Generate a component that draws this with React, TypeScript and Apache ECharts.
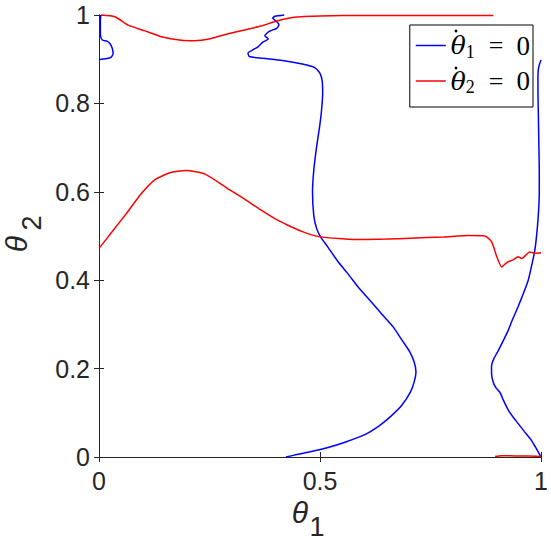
import React, { useEffect, useRef } from "react";
import * as echarts from "echarts";

// ---- tick values ----
const xTicks = [0, 0.5, 1];
const yTicks = [0, 0.2, 0.4, 0.6, 0.8, 1];

// ---- legend labels ----
const name1 = "θ̇1 = 0";
const name2 = "θ̇2 = 0";

// ---- θ̇1 = 0 (blue) curve pieces ----
const blueTopLeft: number[][] = [
  [0.004, 1.0], [0.003, 0.985], [0.003, 0.965], [0.004, 0.95], [0.008, 0.943],
  [0.018, 0.941], [0.025, 0.935], [0.03, 0.925], [0.032, 0.913], [0.027, 0.904],
  [0.015, 0.901], [0.005, 0.9], [0.001, 0.899],
];
const blueMiddle: number[][] = [
  [0.419, 1.0], [0.398, 0.997], [0.393, 0.993], [0.4, 0.987], [0.407, 0.978],
  [0.402, 0.97], [0.385, 0.963], [0.375, 0.953], [0.383, 0.946], [0.37, 0.938],
  [0.36, 0.928], [0.348, 0.921], [0.337, 0.914], [0.34, 0.906], [0.37, 0.902],
  [0.415, 0.897], [0.46, 0.889], [0.488, 0.881], [0.5, 0.868], [0.505, 0.85],
  [0.506, 0.823], [0.503, 0.78], [0.499, 0.747], [0.492, 0.7], [0.486, 0.65],
  [0.483, 0.6], [0.486, 0.545], [0.493, 0.515], [0.503, 0.495], [0.517, 0.476],
  [0.54, 0.443], [0.562, 0.416], [0.59, 0.38], [0.614, 0.353], [0.64, 0.323],
  [0.665, 0.295], [0.685, 0.265], [0.703, 0.238], [0.713, 0.215], [0.717, 0.193],
  [0.713, 0.17], [0.705, 0.148], [0.685, 0.117], [0.66, 0.092], [0.633, 0.07],
  [0.6, 0.05], [0.558, 0.034], [0.52, 0.022], [0.483, 0.013], [0.45, 0.006],
  [0.423, 0.0],
];
const blueRight: number[][] = [
  [1.0, 0.898], [0.997, 0.89], [0.994, 0.878], [0.993, 0.86], [0.993, 0.83],
  [0.994, 0.77], [0.995, 0.71], [0.996, 0.65], [0.996, 0.6], [0.993, 0.536],
  [0.986, 0.468], [0.978, 0.43], [0.971, 0.4], [0.96, 0.37], [0.948, 0.34],
  [0.935, 0.31], [0.926, 0.287], [0.914, 0.262], [0.903, 0.24], [0.893, 0.222],
  [0.888, 0.205], [0.888, 0.19], [0.891, 0.172], [0.897, 0.158], [0.907, 0.146],
  [0.915, 0.128], [0.926, 0.106], [0.937, 0.09], [0.948, 0.076], [0.962, 0.058],
  [0.978, 0.038], [0.99, 0.018], [1.0, 0.0],
];

// ---- θ̇2 = 0 (red) curve pieces ----
const redUpper: number[][] = [
  [0.005, 1.0], [0.036, 0.996], [0.066, 0.977], [0.104, 0.964], [0.141, 0.951],
  [0.186, 0.943], [0.216, 0.942], [0.254, 0.947], [0.291, 0.957], [0.329, 0.966],
  [0.366, 0.975], [0.404, 0.987], [0.441, 0.995], [0.501, 0.998], [0.6, 0.999],
  [0.7, 0.999], [0.8, 0.999], [0.892, 0.999],
];
const redMain: number[][] = [
  [0, 0.472], [0.03, 0.51], [0.065, 0.555], [0.095, 0.595], [0.126, 0.627],
  [0.16, 0.643], [0.197, 0.648], [0.24, 0.64], [0.29, 0.608], [0.33, 0.583],
  [0.366, 0.559], [0.4, 0.538], [0.426, 0.525], [0.46, 0.51], [0.5, 0.498],
  [0.55, 0.494], [0.592, 0.492], [0.65, 0.493], [0.704, 0.495], [0.78, 0.498],
  [0.836, 0.501], [0.873, 0.5], [0.888, 0.487], [0.9, 0.453], [0.911, 0.43],
  [0.918, 0.436], [0.926, 0.442], [0.937, 0.446], [0.948, 0.453], [0.956, 0.449],
  [0.965, 0.456], [0.974, 0.464], [0.986, 0.461], [1.0, 0.462],
];
const redBottom: number[][] = [
  [0.896, 0.001], [0.91, 0.003], [0.93, 0.003], [0.95, 0.002], [0.97, 0.002], [1.0, 0.001],
];

const BLUE = "#0000ff";
const RED = "#ff0000";
const AX = "#262626";
const SANS = "Liberation Sans, Arial, Helvetica, sans-serif";
const SERIF = "DejaVu Serif, Liberation Serif, serif";
const SERIF2 = "Liberation Serif, DejaVu Serif, serif";

function mk(name: string, data: number[][], color: string) {
  return {
    type: "line",
    name,
    data,
    symbol: "none",
    showSymbol: false,
    smooth: 0.2,
    clip: false,
    lineStyle: { color, width: 1.5 },
    itemStyle: { color },
    xAxisIndex: 0,
    yAxisIndex: 0,
  };
}

export default function App() {
  const ref = useRef<HTMLDivElement>(null);
  useEffect(() => {
    if (!ref.current) return;
    const chart = echarts.init(ref.current, undefined, { renderer: "svg" });
    const baseX = {
      type: "value",
      min: xTicks[0],
      max: xTicks[xTicks.length - 1],
      interval: xTicks[1] - xTicks[0],
      splitLine: { show: false },
      axisLine: { show: true, lineStyle: { color: AX, width: 1 } },
      axisTick: { show: true, inside: true, length: 5, lineStyle: { color: AX } },
    };
    const baseY = {
      type: "value",
      min: yTicks[0],
      max: yTicks[yTicks.length - 1],
      interval: 0.2,
      splitLine: { show: false },
      axisLine: { show: true, lineStyle: { color: AX, width: 1 } },
      axisTick: { show: true, inside: true, length: 5, lineStyle: { color: AX } },
    };
    chart.setOption({
      animation: false,
      backgroundColor: "#ffffff",
      grid: { left: 99, right: 8, top: 15, bottom: 86 },
      xAxis: [
        {
          ...baseX,
          position: "bottom",
          axisLabel: {
            show: true, color: AX, fontSize: 25, fontFamily: SANS, margin: 11,
            formatter: (v: number) => String(v),
          },
        },
        { ...baseX, position: "top", axisLabel: { show: false } },
      ],
      yAxis: [
        {
          ...baseY,
          position: "left",
          axisLabel: {
            show: true, color: AX, fontSize: 25, fontFamily: SANS, margin: 9,
            formatter: (v: number) => String(Math.round(v * 10) / 10),
          },
        },
        { ...baseY, position: "right", axisLabel: { show: false } },
      ],
      legend: {
        orient: "vertical",
        right: 18,
        top: 25,
        icon: "rect",
        itemWidth: 30,
        itemHeight: 1.5,
        itemGap: 7,
        padding: [7, 3, 11, 6],
        borderColor: "#000",
        borderWidth: 1,
        backgroundColor: "#fff",
        data: [name1, name2],
        formatter: (n: string) =>
          n === name1 ? "{t|θ}{s|1}{q|=}{z|0}" : "{t|θ}{s|2}{q|=}{z|0}",
        textStyle: {
          color: "#000",
          rich: {
            t: { fontFamily: SERIF, fontStyle: "italic", fontSize: 25, lineHeight: 30, color: "#000" },
            s: { fontFamily: SERIF2, fontSize: 18, lineHeight: 30, verticalAlign: "bottom", color: "#000" },
            q: { fontFamily: SERIF2, fontSize: 26, lineHeight: 30, padding: [0, 0, 0, 14], color: "#000" },
            z: { fontFamily: SERIF2, fontSize: 27, lineHeight: 30, padding: [0, 0, 0, 13], color: "#000" },
          },
        },
      },
      graphic: [
        // time-derivative dots over θ in the legend entries
        { type: "circle", shape: { cx: 456, cy: 31, r: 1.4 }, style: { fill: "#000" }, z: 100 },
        { type: "circle", shape: { cx: 456, cy: 68, r: 1.4 }, style: { fill: "#000" }, z: 100 },
        {
          type: "text", x: 300, y: 512,
          style: { text: "θ", fontFamily: SANS, fontStyle: "italic", fontSize: 30, fill: AX, textAlign: "center", textVerticalAlign: "middle" },
        },
        {
          type: "text", x: 317, y: 527,
          style: { text: "1", fontFamily: SANS, fontSize: 27, fill: AX, textAlign: "center", textVerticalAlign: "middle" },
        },
        {
          type: "text", x: 16, y: 244, rotation: Math.PI / 2,
          style: { text: "θ", fontFamily: SANS, fontStyle: "italic", fontSize: 30, fill: AX, textAlign: "center", textVerticalAlign: "middle" },
        },
        {
          type: "text", x: 32, y: 223, rotation: Math.PI / 2,
          style: { text: "2", fontFamily: SANS, fontSize: 27, fill: AX, textAlign: "center", textVerticalAlign: "middle" },
        },
      ],
      series: [
        mk(name1, blueTopLeft, BLUE),
        mk(name1, blueMiddle, BLUE),
        mk(name1, blueRight, BLUE),
        mk(name2, redUpper, RED),
        mk(name2, redMain, RED),
        mk(name2, redBottom, RED),
      ],
    });
    return () => chart.dispose();
  }, []);
  return (
    <div
      ref={ref}
      style={{ position: "fixed", left: 0, top: 0, width: 551, height: 543, background: "#fff" }}
    />
  );
}
